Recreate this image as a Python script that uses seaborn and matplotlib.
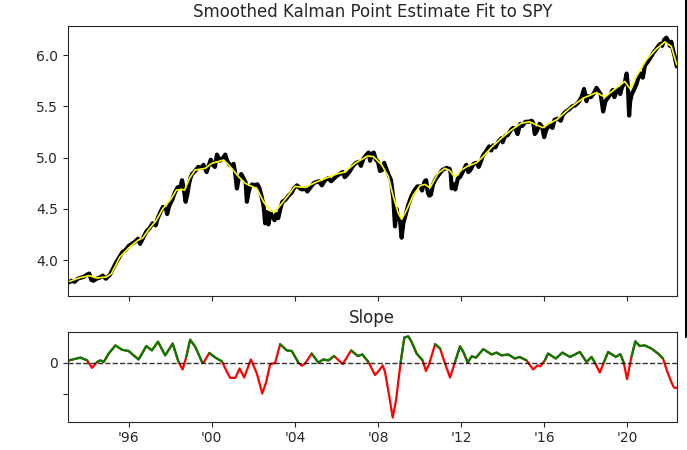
import numpy as np
import matplotlib
matplotlib.use('Agg')
import matplotlib.pyplot as plt
from matplotlib.lines import Line2D
import seaborn as sns

sns.set_style('ticks')
plt.rcParams['font.family'] = ['DejaVu Sans']

# log price of SPY (decimal year, value)
obs_t = [1993.08, 1993.25, 1993.4, 1993.55, 1993.7, 1993.85,
         1994.0, 1994.1, 1994.2, 1994.3, 1994.45, 1994.6, 1994.75, 1994.9, 1995.0, 1995.1,
         1995.25, 1995.4, 1995.55, 1995.7, 1995.85, 1996.0,
         1996.15, 1996.3, 1996.45, 1996.55, 1996.7, 1996.85, 1997.0,
         1997.15, 1997.3, 1997.4, 1997.55, 1997.65, 1997.8, 1997.85, 1997.95, 1998.1,
         1998.2, 1998.35, 1998.5, 1998.57, 1998.65, 1998.74, 1998.82, 1998.9, 1998.97,
         1999.05, 1999.2, 1999.35, 1999.5, 1999.6, 1999.75, 1999.85, 1999.95,
         2000.05, 2000.15, 2000.25, 2000.4, 2000.55, 2000.65, 2000.72, 2000.85, 2000.95,
         2001.05, 2001.12, 2001.21, 2001.3, 2001.42, 2001.55, 2001.63, 2001.69, 2001.77, 2001.85, 2001.95,
         2002.05, 2002.2, 2002.3, 2002.4, 2002.5, 2002.57, 2002.63, 2002.73, 2002.82, 2002.9, 2003.02,
         2003.1, 2003.2, 2003.3, 2003.4, 2003.55, 2003.7, 2003.85, 2003.95,
         2004.1, 2004.25, 2004.35, 2004.5, 2004.6, 2004.75, 2004.9, 2005.0,
         2005.15, 2005.3, 2005.45, 2005.6, 2005.75, 2005.85, 2006.0,
         2006.15, 2006.3, 2006.4, 2006.5, 2006.65, 2006.8, 2006.95,
         2007.1, 2007.18, 2007.3, 2007.45, 2007.55, 2007.62, 2007.72, 2007.8, 2007.9,
         2008.0, 2008.1, 2008.2, 2008.3, 2008.42, 2008.52, 2008.63, 2008.74, 2008.82, 2008.9, 2008.95,
         2009.06, 2009.14, 2009.22, 2009.3, 2009.46, 2009.6, 2009.75, 2009.9,
         2010.05, 2010.12, 2010.25, 2010.32, 2010.4, 2010.47, 2010.55, 2010.65, 2010.8, 2010.95,
         2011.1, 2011.2, 2011.3, 2011.45, 2011.5, 2011.55, 2011.65, 2011.72, 2011.85, 2011.95,
         2012.1, 2012.25, 2012.35, 2012.45, 2012.6, 2012.75, 2012.85, 2012.95,
         2013.05, 2013.2, 2013.35, 2013.45, 2013.55, 2013.65, 2013.8, 2013.95,
         2014.0, 2014.12, 2014.25, 2014.4, 2014.5, 2014.62, 2014.72, 2014.85, 2014.95,
         2015.1, 2015.25, 2015.4, 2015.47, 2015.55, 2015.65, 2015.78, 2015.9, 2016.0,
         2016.1, 2016.25, 2016.4, 2016.5, 2016.65, 2016.8, 2016.9,
         2017.05, 2017.2, 2017.35, 2017.5, 2017.65, 2017.8, 2017.92,
         2018.04, 2018.12, 2018.25, 2018.4, 2018.52, 2018.62, 2018.72, 2018.84, 2018.95,
         2019.05, 2019.2, 2019.3, 2019.38, 2019.5, 2019.6, 2019.66, 2019.75, 2019.88, 2019.97,
         2020.03, 2020.09, 2020.14, 2020.22, 2020.32, 2020.45, 2020.55, 2020.65, 2020.75, 2020.85, 2020.97,
         2021.1, 2021.25, 2021.4, 2021.5, 2021.6, 2021.68, 2021.78, 2021.88, 2021.97,
         2022.05, 2022.12, 2022.2, 2022.28, 2022.38]
obs_v = [3.78, 3.80, 3.79, 3.82, 3.83, 3.84,
         3.86, 3.87, 3.81, 3.80, 3.82, 3.83, 3.85, 3.82, 3.84, 3.86,
         3.92, 3.98, 4.03, 4.08, 4.10, 4.14,
         4.16, 4.18, 4.21, 4.16, 4.22, 4.28, 4.31,
         4.36, 4.34, 4.41, 4.48, 4.52, 4.50, 4.45, 4.53, 4.59,
         4.65, 4.71, 4.72, 4.78, 4.70, 4.57, 4.64, 4.74, 4.80,
         4.84, 4.87, 4.91, 4.90, 4.93, 4.86, 4.92, 4.98,
         4.93, 4.91, 5.03, 4.97, 5.00, 5.03, 4.98, 4.93, 4.92,
         4.94, 4.86, 4.70, 4.80, 4.84, 4.79, 4.76, 4.57, 4.66, 4.72, 4.74,
         4.73, 4.74, 4.70, 4.62, 4.52, 4.36, 4.47, 4.35, 4.47, 4.43, 4.39,
         4.45, 4.41, 4.50, 4.57, 4.59, 4.63, 4.66, 4.70,
         4.73, 4.70, 4.69, 4.70, 4.67, 4.71, 4.75, 4.76,
         4.77, 4.73, 4.78, 4.80, 4.77, 4.79, 4.82,
         4.84, 4.86, 4.81, 4.83, 4.87, 4.92, 4.95,
         4.96, 4.92, 4.99, 5.03, 5.05, 4.97, 5.04, 5.05, 4.98,
         4.96, 4.87, 4.88, 4.95, 4.88, 4.83, 4.78, 4.60, 4.33, 4.50, 4.42,
         4.39, 4.22, 4.36, 4.42, 4.54, 4.62, 4.68, 4.72,
         4.72, 4.68, 4.77, 4.78, 4.66, 4.63, 4.64, 4.74, 4.80, 4.84,
         4.88, 4.89, 4.90, 4.89, 4.85, 4.70, 4.74, 4.69, 4.80, 4.81,
         4.87, 4.93, 4.86, 4.88, 4.94, 4.95, 4.91, 4.96,
         5.02, 5.06, 5.11, 5.07, 5.12, 5.10, 5.16, 5.19,
         5.15, 5.21, 5.22, 5.27, 5.29, 5.28, 5.23, 5.33, 5.31,
         5.35, 5.35, 5.36, 5.34, 5.23, 5.26, 5.33, 5.30, 5.20,
         5.27, 5.32, 5.29, 5.37, 5.38, 5.36, 5.42,
         5.45, 5.47, 5.50, 5.51, 5.54, 5.59, 5.67,
         5.55, 5.60, 5.59, 5.63, 5.68, 5.65, 5.62, 5.45, 5.55,
         5.58, 5.62, 5.66, 5.59, 5.66, 5.67, 5.62, 5.69, 5.73, 5.82,
         5.70, 5.41, 5.55, 5.62, 5.66, 5.72, 5.79, 5.82, 5.78, 5.90, 5.93,
         5.97, 6.02, 6.06, 6.09, 6.11, 6.09, 6.15, 6.17, 6.14,
         6.09, 6.13, 6.05, 5.99, 5.89]

# smoothed level (Kalman point estimate)
smooth_t = [1993.08, 1993.6, 1994.1, 1994.45, 1994.93, 1995.17, 1995.57, 1996.05, 1996.45, 1996.69,
            1996.93, 1997.33, 1997.65, 1998.05, 1998.29, 1998.53, 1998.69, 1998.93, 1999.2, 1999.69,
            2000.0, 2000.57, 2000.81, 2001.29, 2001.61, 2001.93, 2002.17, 2002.49, 2002.81, 2003.05,
            2003.37, 2003.69, 2004.0, 2004.5, 2005.0, 2005.5, 2006.0, 2006.4, 2006.9, 2007.5,
            2007.78, 2008.18, 2008.5, 2008.74, 2008.98, 2009.14, 2009.38, 2009.7, 2010.02, 2010.26,
            2010.5, 2010.9, 2011.22, 2011.46, 2011.7, 2012.02, 2012.34, 2012.74, 2013.06, 2013.46,
            2013.94, 2014.42, 2014.9, 2015.3, 2015.62, 2015.94, 2016.26, 2016.6, 2017.24, 2017.88,
            2018.52, 2018.92, 2019.32, 2019.88, 2020.15, 2020.44, 2020.92, 2021.4, 2021.8, 2022.12,
            2022.38]
smooth_v = [3.788, 3.827, 3.85, 3.827, 3.837, 3.87, 4.03, 4.13, 4.195, 4.22,
            4.29, 4.39, 4.505, 4.60, 4.684, 4.69, 4.684, 4.80, 4.88, 4.896,
            4.945, 4.977, 4.93, 4.815, 4.75, 4.72, 4.70, 4.57, 4.48, 4.472,
            4.554, 4.635, 4.72, 4.71, 4.76, 4.80, 4.84, 4.86, 4.945, 5.017,
            5.01, 4.93, 4.815, 4.62, 4.456, 4.40, 4.49, 4.635, 4.726, 4.74,
            4.705, 4.85, 4.896, 4.873, 4.81, 4.88, 4.92, 4.95, 5.01, 5.10,
            5.19, 5.27, 5.336, 5.35, 5.32, 5.293, 5.336, 5.37, 5.483, 5.58,
            5.635, 5.59, 5.655, 5.743, 5.668, 5.79, 5.955, 6.06, 6.128, 6.085,
            5.906]

# slope of the smoothed state (unit = unlabeled lower tick)
slope_t = [1993.12, 1993.68, 1994.0, 1994.24, 1994.48, 1994.64, 1994.8, 1995.04, 1995.36, 1995.68,
           1996.0, 1996.24, 1996.48, 1996.85, 1997.12, 1997.41, 1997.76, 1998.12, 1998.4, 1998.6,
           1998.77, 1998.96, 1999.21, 1999.53, 1999.6, 1999.88, 2000.17, 2000.49, 2000.73, 2000.89,
           2001.13, 2001.34, 2001.56, 2001.88, 2002.17, 2002.43, 2002.62, 2002.81, 2003.05, 2003.29,
           2003.61, 2003.85, 2004.17, 2004.33, 2004.49, 2004.81, 2005.13, 2005.37, 2005.62, 2005.89,
           2006.3, 2006.71, 2007.03, 2007.25, 2007.54, 2007.86, 2008.02, 2008.23, 2008.34, 2008.55,
           2008.71, 2008.87, 2009.09, 2009.27, 2009.46, 2009.62, 2009.86, 2010.15, 2010.31, 2010.47,
           2010.75, 2010.99, 2011.23, 2011.47, 2011.71, 2011.95, 2012.11, 2012.32, 2012.51, 2012.72,
           2013.07, 2013.47, 2013.71, 2013.95, 2014.27, 2014.59, 2014.83, 2015.15, 2015.47, 2015.68,
           2015.82, 2016.03, 2016.19, 2016.56, 2016.88, 2017.24, 2017.72, 2018.04, 2018.28, 2018.44,
           2018.68, 2018.87, 2019.08, 2019.45, 2019.67, 2019.83, 2019.99, 2020.2, 2020.39, 2020.6,
           2020.84, 2021.16, 2021.48, 2021.72, 2021.93, 2022.12, 2022.25, 2022.38]
slope_v = [0.07, 0.16, 0.07, -0.17, 0.02, 0.07, 0.02, 0.29, 0.55, 0.41,
           0.37, 0.23, 0.10, 0.53, 0.39, 0.67, 0.23, 0.61, 0.02, -0.22,
           0.18, 0.73, 0.50, 0.02, -0.01, 0.31, 0.16, 0.04, -0.30, -0.49,
           -0.49, -0.19, -0.48, 0.10, -0.35, -0.99, -0.62, -0.05, -0.01, 0.59,
           0.39, 0.37, 0.0, -0.10, -0.03, 0.29, 0.0, 0.10, 0.07, 0.21,
           -0.05, 0.39, 0.21, 0.26, 0.02, -0.40, -0.28, -0.09, -0.30, -1.10,
           -1.76, -1.20, 0.0, 0.80, 0.84, 0.66, 0.29, 0.07, -0.27, -0.03,
           0.59, 0.45, -0.03, -0.48, 0.02, 0.52, 0.34, 0.0, 0.20, 0.16,
           0.43, 0.26, 0.32, 0.23, 0.26, 0.13, 0.18, 0.07, -0.22, -0.09,
           -0.12, 0.07, 0.29, 0.13, 0.32, 0.18, 0.34, 0.02, 0.18, 0.0,
           -0.32, 0.0, 0.34, 0.18, 0.27, 0.0, -0.53, 0.18, 0.68, 0.53,
           0.55, 0.45, 0.29, 0.13, -0.30, -0.62, -0.80, -0.81]

year_ticks = [1996, 2000, 2004, 2008, 2012, 2016, 2020]
year_labels = ["'96", "'00", "'04", "'08", "'12", "'16", "'20"]

fig = plt.figure(figsize=(6.87, 4.5), dpi=100)
ax1 = fig.add_axes([0.099, 0.343, 0.886, 0.6])
ax2 = fig.add_axes([0.099, 0.063, 0.886, 0.2], sharex=ax1)

# fit
sns.lineplot(x=obs_t, y=obs_v, color='black', lw=3, ax=ax1)
sns.lineplot(x=smooth_t, y=smooth_v, color='yellow', lw=1.2, ax=ax1)
ax1.set_title('Smoothed Kalman Point Estimate Fit to SPY')
ax1.set_ylim(3.655, 6.287)
ax1.set_yticks([4.0, 4.5, 5.0, 5.5, 6.0])
ax1.tick_params(labelbottom=False)

# slope: red everywhere, green on top where >= 0
slope = np.array(slope_v)
sns.lineplot(x=slope_t, y=slope_v, color='red', lw=1.6, ax=ax2)
ax2.plot(slope_t, np.where(slope >= 0, slope, np.nan), color='green', lw=1.6)
ax2.axhline(0, color='black', ls='--', lw=1, alpha=0.8)
ax2.set_title('Slope')
ax2.set_ylim(-1.89, 0.99)
ax2.set_yticks([0, -1])
ax2.set_yticklabels(['0', ''])

ax2.set_xlim(1993.08, 2022.38)
ax2.set_xticks(year_ticks)
ax2.set_xticklabels(year_labels)

# dark edge at the right border of the source image
fig.add_artist(Line2D([685.5 / 687, 685.5 / 687], [1.0, (450 - 337) / 450],
                      color='black', lw=1.5))

fig.savefig('out.png', dpi=100)
